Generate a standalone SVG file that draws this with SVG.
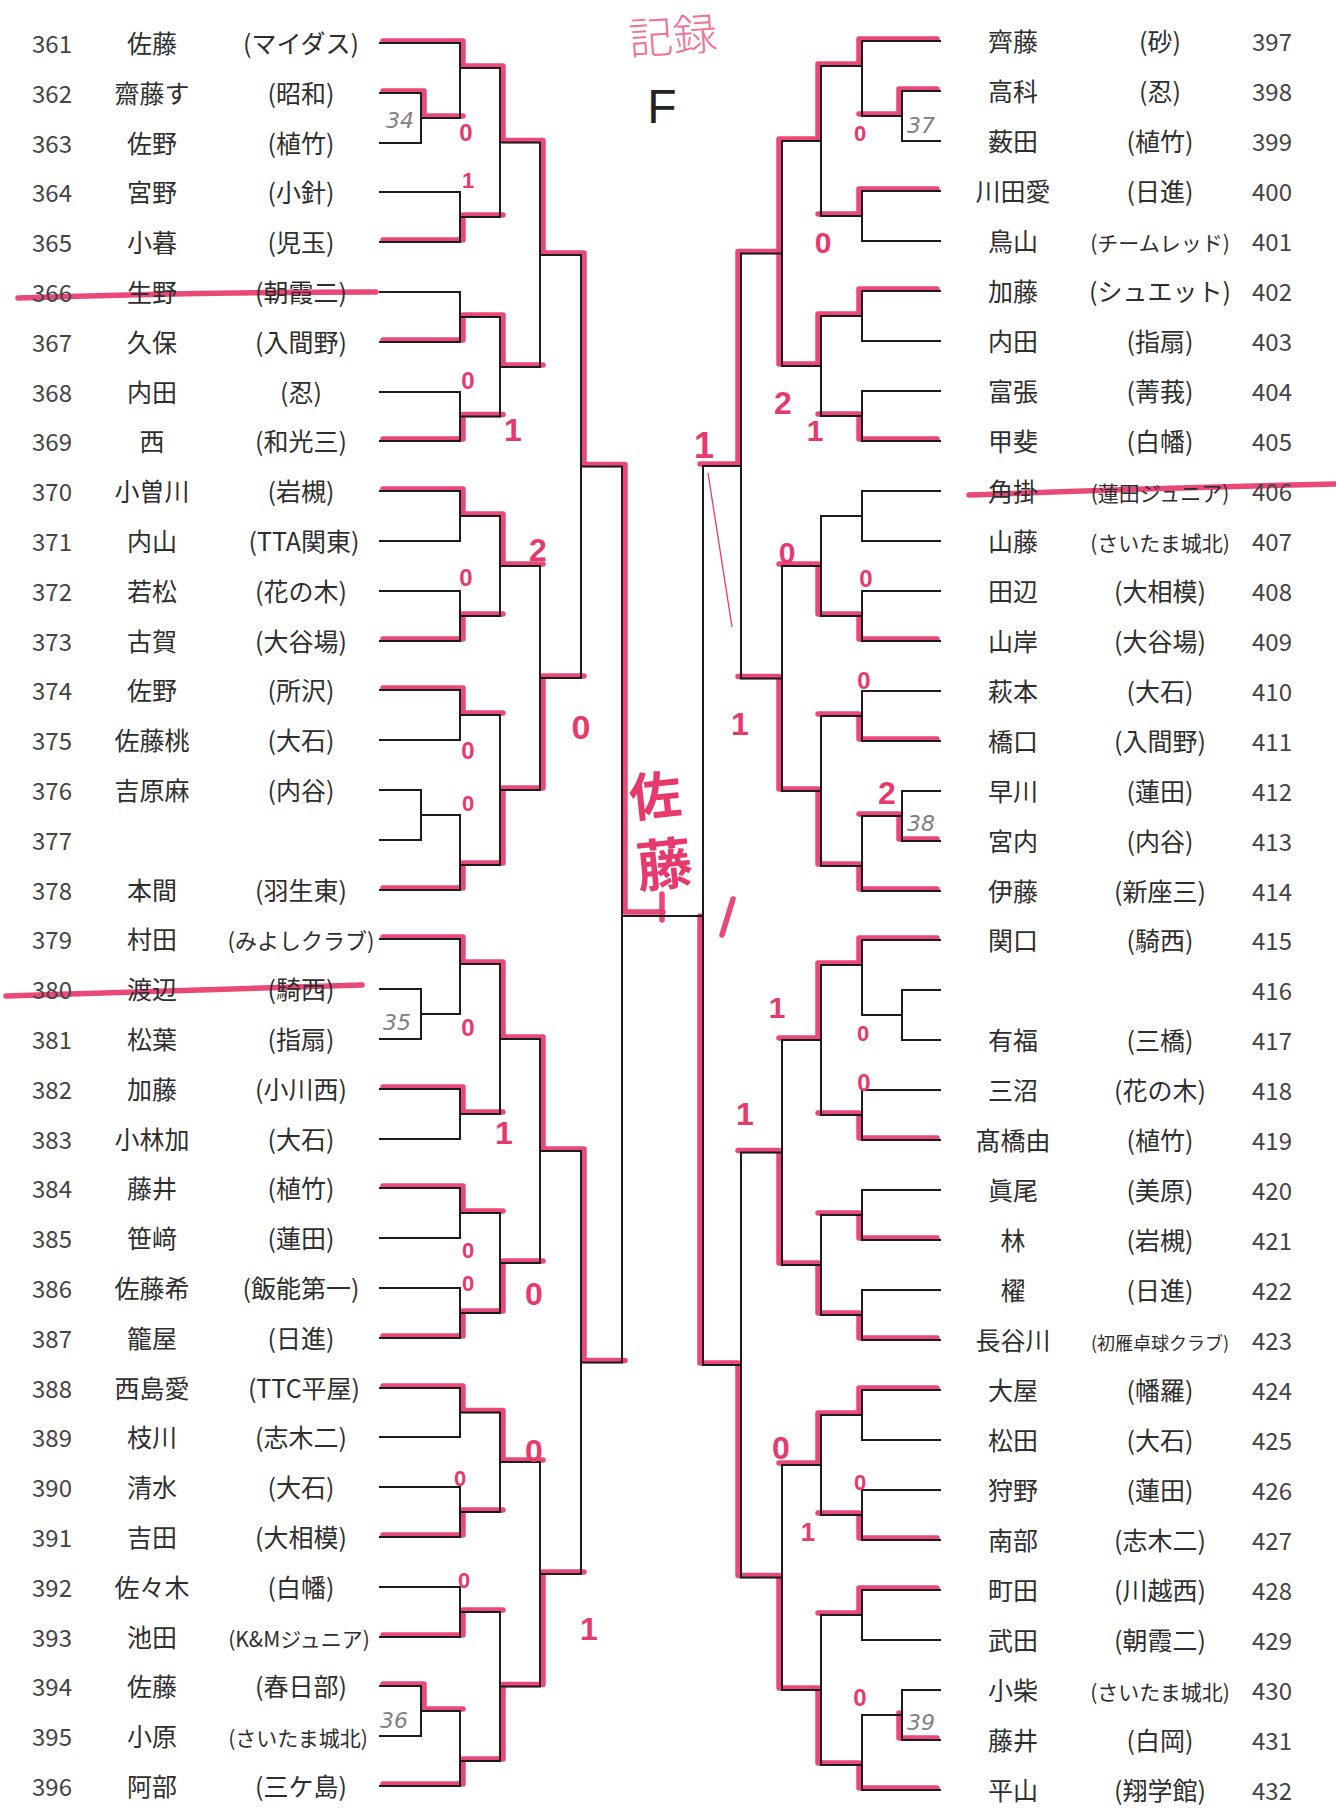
<svg xmlns="http://www.w3.org/2000/svg" width="1336" height="1814" viewBox="0 0 1336 1814">
<style>
text{font-family:"Noto Sans CJK JP","Noto Sans",sans-serif;fill:#2e2e2e;text-anchor:middle}
.no{font-size:24px;fill:#444}
.nm{font-size:25px}
.af{font-size:25px}
.afs{font-size:21px}
.afxs{font-size:18px}
.bk{fill:none;stroke:#1c1c1c;stroke-width:2;stroke-linecap:square}
.rd{fill:none;stroke:#e8396c;stroke-width:5.5;stroke-linejoin:round;stroke-linecap:round;opacity:.92}
.sc{font-family:"Liberation Sans",sans-serif;font-weight:bold;fill:#e8396c}
.bx{font-family:"DejaVu Sans",sans-serif;font-size:22px;fill:#808080;font-style:italic}
</style>
<rect width="1336" height="1814" fill="#ffffff"/>

<g id="title">
<text x="673" y="52" style="font-size:44px;font-weight:300;fill:#ef7595" transform="rotate(-4 673 38)">記録</text>
<text x="662" y="123" style="font-family:'Liberation Sans',sans-serif;font-size:48px;fill:#222">F</text>
</g>

<g id="winner-marks">
<g transform="translate(3,-2)">
<path class="rd" d="M380 43H460V68H500V142.5H540V255H581V466.5H622V914H660"/>
<path class="rd" d="M380 93H421V118H460"/>
<path class="rd" d="M380 242H460V217H500"/>
<path class="rd" d="M380 342H460V317H500V367H540"/>
<path class="rd" d="M380 441H460V416.5H500"/>
<path class="rd" d="M380 491H460V516H500V566H540"/>
<path class="rd" d="M380 641H460V616H500"/>
<path class="rd" d="M380 690H460V715H500"/>
<path class="rd" d="M380 890H460V865H500V790H540V678H581"/>
<path class="rd" d="M380 939H460V964H500V1039H540V1151H581V1362.5H622"/>
<path class="rd" d="M380 1089H460V1114H500"/>
<path class="rd" d="M380 1188H460V1213H500"/>
<path class="rd" d="M380 1338H460V1313H500V1263H540"/>
<path class="rd" d="M380 1388H460V1412.5H500V1462H540"/>
<path class="rd" d="M380 1537H460V1512H500"/>
<path class="rd" d="M380 1637H460V1612H500"/>
<path class="rd" d="M380 1686H421V1711H460"/>
<path class="rd" d="M380 1786H460V1761H500V1686.5H540V1574H581"/>
</g>
<g transform="translate(-3,-2)">
<path class="rd" d="M940 41H862V66H821V141H782V253.5H741V466H703"/>
<path class="rd" d="M940 91H902V116H862"/>
<path class="rd" d="M940 191H862V216H821"/>
<path class="rd" d="M940 291H862V316H821V366H782V253.5"/>
<path class="rd" d="M940 441H862V416H821"/>
<path class="rd" d="M940 641H862V616H821V566H782"/>
<path class="rd" d="M940 741H862V716H821"/>
<path class="rd" d="M940 841H902V816H862"/>
<path class="rd" d="M940 891H862V866H821V791H782V678.5H741"/>
<path class="rd" d="M940 940H862V965H821V1040H782"/>
<path class="rd" d="M940 1140H862V1115H821"/>
<path class="rd" d="M940 1240H862V1215H821"/>
<path class="rd" d="M940 1340H862V1315H821V1265H782V1152.5H741"/>
<path class="rd" d="M940 1390H862V1415H821V1465H782"/>
<path class="rd" d="M940 1540H862V1515H821"/>
<path class="rd" d="M940 1590H862V1615H821"/>
<path class="rd" d="M940 1740H902V1715"/>
<path class="rd" d="M940 1790H862V1765H821V1690H782V1577.5H741V1365H703V918"/>
</g>
<path class="rd" d="M662 894V920"/>
<path class="rd" d="M733 899L722 935"/>
<path d="M708 473L732 627" fill="none" stroke="#e8396c" stroke-width="1.3"/>
<path class="rd" d="M18 298Q200 292 376 292"/>
<path class="rd" d="M6 996Q180 990 362 985"/>
<path class="rd" d="M969 495Q1150 488 1336 484"/>
</g>

<g id="connectors">
<path class="bk" d="M380 43H460M380 93H421M380 143H421M421 93V143M421 118H460M460 43V118M460 68H500
M380 192H460M380 242H460M460 192V242M460 217H500M500 68V217M500 142.5H540
M380 292H460M380 342H460M460 292V342M460 317H500
M380 392H460M380 441H460M460 392V441M460 416.5H500M500 317V416.5M500 367H540
M540 142.5V367M540 255H581
M380 491H460M380 541H460M460 491V541M460 516H500
M380 591H460M380 641H460M460 591V641M460 616H500M500 516V616M500 566H540
M380 690H460M380 740H460M460 690V740M460 715H500
M380 790H421M380 840H421M421 790V840M421 815H460M380 890H460M460 815V890M460 865H500
M500 715V865M500 790H540M540 566V790M540 678H581
M581 255V678M581 466.5H622
M380 939H460M380 989H421M380 1039H421M421 989V1039M421 1014H460M460 939V1014M460 964H500
M380 1089H460M380 1139H460M460 1089V1139M460 1114H500M500 964V1114M500 1039H540
M380 1188H460M380 1238H460M460 1188V1238M460 1213H500
M380 1288H460M380 1338H460M460 1288V1338M460 1313H500M500 1213V1313M500 1263H540
M540 1039V1263M540 1151H581
M380 1388H460M380 1437H460M460 1388V1437M460 1412.5H500
M380 1487H460M380 1537H460M460 1487V1537M460 1512H500M500 1412.5V1512M500 1462H540
M380 1587H460M380 1637H460M460 1587V1637M460 1612H500
M380 1686H421M380 1736H421M421 1686V1736M421 1711H460M380 1786H460M460 1711V1786M460 1761H500
M500 1612V1761M500 1686.5H540M540 1462V1686.5M540 1574H581
M581 1151V1574M581 1362.5H622
M622 466.5V1362.5M622 916H703"/>
<path class="bk" d="M940 41H862M940 91H902M940 141H902M902 91V141M902 116H862M862 41V116M862 66H821
M940 191H862M940 241H862M862 191V241M862 216H821M821 66V216M821 141H782
M940 291H862M940 341H862M862 291V341M862 316H821
M940 391H862M940 441H862M862 391V441M862 416H821M821 316V416M821 366H782
M782 141V366M782 253.5H741
M940 491H862M940 541H862M862 491V541M862 516H821
M940 591H862M940 641H862M862 591V641M862 616H821M821 516V616M821 566H782
M940 691H862M940 741H862M862 691V741M862 716H821
M940 791H902M940 841H902M902 791V841M902 816H862M940 891H862M862 816V891M862 866H821
M821 716V866M821 791H782M782 566V791M782 678.5H741
M741 253.5V678.5M741 466H703
M940 940H862M940 990H902M940 1040H902M902 990V1040M902 1015H862M862 940V1015M862 965H821
M940 1090H862M940 1140H862M862 1090V1140M862 1115H821M821 965V1115M821 1040H782
M940 1190H862M940 1240H862M862 1190V1240M862 1215H821
M940 1290H862M940 1340H862M862 1290V1340M862 1315H821M821 1215V1315M821 1265H782
M782 1040V1265M782 1152.5H741
M940 1390H862M940 1440H862M862 1390V1440M862 1415H821
M940 1490H862M940 1540H862M862 1490V1540M862 1515H821M821 1415V1515M821 1465H782
M940 1590H862M940 1640H862M862 1590V1640M862 1615H821
M940 1690H902M940 1740H902M902 1690V1740M902 1715H862M940 1790H862M862 1715V1790M862 1765H821
M821 1615V1765M821 1690H782M782 1465V1690M782 1577.5H741
M741 1152.5V1577.5M741 1365H703
M703 466V1365"/>
</g>

<g id="prelim-numbers">
<text class="bx" x="400" y="128">34</text>
<text class="bx" x="397" y="1030">35</text>
<text class="bx" x="394" y="1728">36</text>
<text class="bx" x="921" y="133">37</text>
<text class="bx" x="921" y="831">38</text>
<text class="bx" x="921" y="1730">39</text>
</g>

<g id="scores">
<text class="sc" x="466" y="141" style="font-size:24px">0</text>
<text class="sc" x="468" y="188" style="font-size:22px">1</text>
<text class="sc" x="468" y="389" style="font-size:24px">0</text>
<text class="sc" x="513" y="441" style="font-size:32px">1</text>
<text class="sc" x="538" y="561" style="font-size:32px">2</text>
<text class="sc" x="466" y="586" style="font-size:24px">0</text>
<text class="sc" x="581" y="739" style="font-size:34px">0</text>
<text class="sc" x="468" y="759" style="font-size:24px">0</text>
<text class="sc" x="468" y="811" style="font-size:22px">0</text>
<text class="sc" x="468" y="1036" style="font-size:24px">0</text>
<text class="sc" x="504" y="1144" style="font-size:32px">1</text>
<text class="sc" x="468" y="1258" style="font-size:22px">0</text>
<text class="sc" x="468" y="1291" style="font-size:22px">0</text>
<text class="sc" x="534" y="1305" style="font-size:32px">0</text>
<text class="sc" x="534" y="1462" style="font-size:32px">0</text>
<text class="sc" x="460" y="1486" style="font-size:22px">0</text>
<text class="sc" x="464" y="1588" style="font-size:22px">0</text>
<text class="sc" x="589" y="1640" style="font-size:32px">1</text>
<text class="sc" x="860" y="141" style="font-size:22px">0</text>
<text class="sc" x="823" y="253" style="font-size:30px">0</text>
<text class="sc" x="783" y="414" style="font-size:32px">2</text>
<text class="sc" x="815" y="441" style="font-size:30px">1</text>
<text class="sc" x="704" y="458" style="font-size:36px">1</text>
<text class="sc" x="787" y="563" style="font-size:30px">0</text>
<text class="sc" x="866" y="587" style="font-size:24px">0</text>
<text class="sc" x="864" y="689" style="font-size:24px">0</text>
<text class="sc" x="740" y="735" style="font-size:32px">1</text>
<text class="sc" x="887" y="804" style="font-size:32px">2</text>
<text class="sc" x="777" y="1018" style="font-size:30px">1</text>
<text class="sc" x="863" y="1041" style="font-size:22px">0</text>
<text class="sc" x="864" y="1091" style="font-size:24px">0</text>
<text class="sc" x="745" y="1125" style="font-size:32px">1</text>
<text class="sc" x="781" y="1459" style="font-size:32px">0</text>
<text class="sc" x="860" y="1490" style="font-size:22px">0</text>
<text class="sc" x="808" y="1541" style="font-size:26px">1</text>
<text class="sc" x="860" y="1706" style="font-size:24px">0</text>
</g>

<g id="winner-name">
<text x="655" y="815" style="font-size:52px;font-weight:bold;fill:#e8396c" transform="rotate(-6 655 795)">佐</text>
<text x="664" y="885" style="font-size:56px;font-weight:bold;fill:#e8396c" transform="rotate(-6 664 862)">藤</text>
</g>

<g id="p361"><text class="no" x="52" y="53">361</text><text class="nm" x="152" y="53">佐藤</text><text class="af" x="301" y="53">(マイダス)</text></g>
<g id="p362"><text class="no" x="52" y="103">362</text><text class="nm" x="152" y="103">齋藤す</text><text class="af" x="301" y="103">(昭和)</text></g>
<g id="p363"><text class="no" x="52" y="153">363</text><text class="nm" x="152" y="153">佐野</text><text class="af" x="301" y="153">(植竹)</text></g>
<g id="p364"><text class="no" x="52" y="202">364</text><text class="nm" x="152" y="202">宮野</text><text class="af" x="301" y="202">(小針)</text></g>
<g id="p365"><text class="no" x="52" y="252">365</text><text class="nm" x="152" y="252">小暮</text><text class="af" x="301" y="252">(児玉)</text></g>
<g id="p366"><text class="no" x="52" y="302">366</text><text class="nm" x="152" y="302">生野</text><text class="af" x="301" y="302">(朝霞二)</text></g>
<g id="p367"><text class="no" x="52" y="352">367</text><text class="nm" x="152" y="352">久保</text><text class="af" x="301" y="352">(入間野)</text></g>
<g id="p368"><text class="no" x="52" y="402">368</text><text class="nm" x="152" y="402">内田</text><text class="af" x="301" y="402">(忍)</text></g>
<g id="p369"><text class="no" x="52" y="451">369</text><text class="nm" x="152" y="451">西</text><text class="af" x="301" y="451">(和光三)</text></g>
<g id="p370"><text class="no" x="52" y="501">370</text><text class="nm" x="152" y="501">小曽川</text><text class="af" x="301" y="501">(岩槻)</text></g>
<g id="p371"><text class="no" x="52" y="551">371</text><text class="nm" x="152" y="551">内山</text><text class="af" x="304" y="551">(TTA関東)</text></g>
<g id="p372"><text class="no" x="52" y="601">372</text><text class="nm" x="152" y="601">若松</text><text class="af" x="301" y="601">(花の木)</text></g>
<g id="p373"><text class="no" x="52" y="651">373</text><text class="nm" x="152" y="651">古賀</text><text class="af" x="301" y="651">(大谷場)</text></g>
<g id="p374"><text class="no" x="52" y="700">374</text><text class="nm" x="152" y="700">佐野</text><text class="af" x="301" y="700">(所沢)</text></g>
<g id="p375"><text class="no" x="52" y="750">375</text><text class="nm" x="152" y="750">佐藤桃</text><text class="af" x="301" y="750">(大石)</text></g>
<g id="p376"><text class="no" x="52" y="800">376</text><text class="nm" x="152" y="800">吉原麻</text><text class="af" x="301" y="800">(内谷)</text></g>
<g id="p377"><text class="no" x="52" y="850">377</text></g>
<g id="p378"><text class="no" x="52" y="900">378</text><text class="nm" x="152" y="900">本間</text><text class="af" x="301" y="900">(羽生東)</text></g>
<g id="p379"><text class="no" x="52" y="949">379</text><text class="nm" x="152" y="949">村田</text><text class="af" x="301" y="949" style="font-size:22px">(みよしクラブ)</text></g>
<g id="p380"><text class="no" x="52" y="999">380</text><text class="nm" x="152" y="999">渡辺</text><text class="af" x="301" y="999">(騎西)</text></g>
<g id="p381"><text class="no" x="52" y="1049">381</text><text class="nm" x="152" y="1049">松葉</text><text class="af" x="301" y="1049">(指扇)</text></g>
<g id="p382"><text class="no" x="52" y="1099">382</text><text class="nm" x="152" y="1099">加藤</text><text class="af" x="301" y="1099">(小川西)</text></g>
<g id="p383"><text class="no" x="52" y="1149">383</text><text class="nm" x="152" y="1149">小林加</text><text class="af" x="301" y="1149">(大石)</text></g>
<g id="p384"><text class="no" x="52" y="1198">384</text><text class="nm" x="152" y="1198">藤井</text><text class="af" x="301" y="1198">(植竹)</text></g>
<g id="p385"><text class="no" x="52" y="1248">385</text><text class="nm" x="152" y="1248">笹﨑</text><text class="af" x="301" y="1248">(蓮田)</text></g>
<g id="p386"><text class="no" x="52" y="1298">386</text><text class="nm" x="152" y="1298">佐藤希</text><text class="af" x="301" y="1298">(飯能第一)</text></g>
<g id="p387"><text class="no" x="52" y="1348">387</text><text class="nm" x="152" y="1348">籠屋</text><text class="af" x="301" y="1348">(日進)</text></g>
<g id="p388"><text class="no" x="52" y="1398">388</text><text class="nm" x="152" y="1398">西島愛</text><text class="af" x="304" y="1398">(TTC平屋)</text></g>
<g id="p389"><text class="no" x="52" y="1447">389</text><text class="nm" x="152" y="1447">枝川</text><text class="af" x="301" y="1447">(志木二)</text></g>
<g id="p390"><text class="no" x="52" y="1497">390</text><text class="nm" x="152" y="1497">清水</text><text class="af" x="301" y="1497">(大石)</text></g>
<g id="p391"><text class="no" x="52" y="1547">391</text><text class="nm" x="152" y="1547">吉田</text><text class="af" x="301" y="1547">(大相模)</text></g>
<g id="p392"><text class="no" x="52" y="1597">392</text><text class="nm" x="152" y="1597">佐々木</text><text class="af" x="301" y="1597">(白幡)</text></g>
<g id="p393"><text class="no" x="52" y="1647">393</text><text class="nm" x="152" y="1647">池田</text><text class="af afs" x="299" y="1647">(K&amp;Mジュニア)</text></g>
<g id="p394"><text class="no" x="52" y="1696">394</text><text class="nm" x="152" y="1696">佐藤</text><text class="af" x="301" y="1696">(春日部)</text></g>
<g id="p395"><text class="no" x="52" y="1746">395</text><text class="nm" x="152" y="1746">小原</text><text class="af afs" x="298" y="1746">(さいたま城北)</text></g>
<g id="p396"><text class="no" x="52" y="1796">396</text><text class="nm" x="152" y="1796">阿部</text><text class="af" x="301" y="1796">(三ケ島)</text></g>

<g id="p397"><text class="nm" x="1013" y="51">齊藤</text><text class="af" x="1160" y="51">(砂)</text><text class="no" x="1272" y="51">397</text></g>
<g id="p398"><text class="nm" x="1013" y="101">高科</text><text class="af" x="1160" y="101">(忍)</text><text class="no" x="1272" y="101">398</text></g>
<g id="p399"><text class="nm" x="1013" y="151">薮田</text><text class="af" x="1160" y="151">(植竹)</text><text class="no" x="1272" y="151">399</text></g>
<g id="p400"><text class="nm" x="1013" y="201">川田愛</text><text class="af" x="1160" y="201">(日進)</text><text class="no" x="1272" y="201">400</text></g>
<g id="p401"><text class="nm" x="1013" y="251">鳥山</text><text class="af afs" x="1160" y="251">(チームレッド)</text><text class="no" x="1272" y="251">401</text></g>
<g id="p402"><text class="nm" x="1013" y="301">加藤</text><text class="af" x="1160" y="301">(シュエット)</text><text class="no" x="1272" y="301">402</text></g>
<g id="p403"><text class="nm" x="1013" y="351">内田</text><text class="af" x="1160" y="351">(指扇)</text><text class="no" x="1272" y="351">403</text></g>
<g id="p404"><text class="nm" x="1013" y="401">富張</text><text class="af" x="1160" y="401">(菁莪)</text><text class="no" x="1272" y="401">404</text></g>
<g id="p405"><text class="nm" x="1013" y="451">甲斐</text><text class="af" x="1160" y="451">(白幡)</text><text class="no" x="1272" y="451">405</text></g>
<g id="p406"><text class="nm" x="1013" y="501">角掛</text><text class="af afs" x="1160" y="501">(蓮田ジュニア)</text><text class="no" x="1272" y="501">406</text></g>
<g id="p407"><text class="nm" x="1013" y="551">山藤</text><text class="af afs" x="1160" y="551">(さいたま城北)</text><text class="no" x="1272" y="551">407</text></g>
<g id="p408"><text class="nm" x="1013" y="601">田辺</text><text class="af" x="1160" y="601">(大相模)</text><text class="no" x="1272" y="601">408</text></g>
<g id="p409"><text class="nm" x="1013" y="651">山岸</text><text class="af" x="1160" y="651">(大谷場)</text><text class="no" x="1272" y="651">409</text></g>
<g id="p410"><text class="nm" x="1013" y="701">萩本</text><text class="af" x="1160" y="701">(大石)</text><text class="no" x="1272" y="701">410</text></g>
<g id="p411"><text class="nm" x="1013" y="751">橋口</text><text class="af" x="1160" y="751">(入間野)</text><text class="no" x="1272" y="751">411</text></g>
<g id="p412"><text class="nm" x="1013" y="801">早川</text><text class="af" x="1160" y="801">(蓮田)</text><text class="no" x="1272" y="801">412</text></g>
<g id="p413"><text class="nm" x="1013" y="851">宮内</text><text class="af" x="1160" y="851">(内谷)</text><text class="no" x="1272" y="851">413</text></g>
<g id="p414"><text class="nm" x="1013" y="901">伊藤</text><text class="af" x="1160" y="901">(新座三)</text><text class="no" x="1272" y="901">414</text></g>
<g id="p415"><text class="nm" x="1013" y="950">関口</text><text class="af" x="1160" y="950">(騎西)</text><text class="no" x="1272" y="950">415</text></g>
<g id="p416"><text class="no" x="1272" y="1000">416</text></g>
<g id="p417"><text class="nm" x="1013" y="1050">有福</text><text class="af" x="1160" y="1050">(三橋)</text><text class="no" x="1272" y="1050">417</text></g>
<g id="p418"><text class="nm" x="1013" y="1100">三沼</text><text class="af" x="1160" y="1100">(花の木)</text><text class="no" x="1272" y="1100">418</text></g>
<g id="p419"><text class="nm" x="1013" y="1150">髙橋由</text><text class="af" x="1160" y="1150">(植竹)</text><text class="no" x="1272" y="1150">419</text></g>
<g id="p420"><text class="nm" x="1013" y="1200">眞尾</text><text class="af" x="1160" y="1200">(美原)</text><text class="no" x="1272" y="1200">420</text></g>
<g id="p421"><text class="nm" x="1013" y="1250">林</text><text class="af" x="1160" y="1250">(岩槻)</text><text class="no" x="1272" y="1250">421</text></g>
<g id="p422"><text class="nm" x="1013" y="1300">櫂</text><text class="af" x="1160" y="1300">(日進)</text><text class="no" x="1272" y="1300">422</text></g>
<g id="p423"><text class="nm" x="1013" y="1350">長谷川</text><text class="af afxs" x="1160" y="1350">(初雁卓球クラブ)</text><text class="no" x="1272" y="1350">423</text></g>
<g id="p424"><text class="nm" x="1013" y="1400">大屋</text><text class="af" x="1160" y="1400">(幡羅)</text><text class="no" x="1272" y="1400">424</text></g>
<g id="p425"><text class="nm" x="1013" y="1450">松田</text><text class="af" x="1160" y="1450">(大石)</text><text class="no" x="1272" y="1450">425</text></g>
<g id="p426"><text class="nm" x="1013" y="1500">狩野</text><text class="af" x="1160" y="1500">(蓮田)</text><text class="no" x="1272" y="1500">426</text></g>
<g id="p427"><text class="nm" x="1013" y="1550">南部</text><text class="af" x="1160" y="1550">(志木二)</text><text class="no" x="1272" y="1550">427</text></g>
<g id="p428"><text class="nm" x="1013" y="1600">町田</text><text class="af" x="1160" y="1600">(川越西)</text><text class="no" x="1272" y="1600">428</text></g>
<g id="p429"><text class="nm" x="1013" y="1650">武田</text><text class="af" x="1160" y="1650">(朝霞二)</text><text class="no" x="1272" y="1650">429</text></g>
<g id="p430"><text class="nm" x="1013" y="1700">小柴</text><text class="af afs" x="1160" y="1700">(さいたま城北)</text><text class="no" x="1272" y="1700">430</text></g>
<g id="p431"><text class="nm" x="1013" y="1750">藤井</text><text class="af" x="1160" y="1750">(白岡)</text><text class="no" x="1272" y="1750">431</text></g>
<g id="p432"><text class="nm" x="1013" y="1800">平山</text><text class="af" x="1160" y="1800">(翔学館)</text><text class="no" x="1272" y="1800">432</text></g>
</svg>
